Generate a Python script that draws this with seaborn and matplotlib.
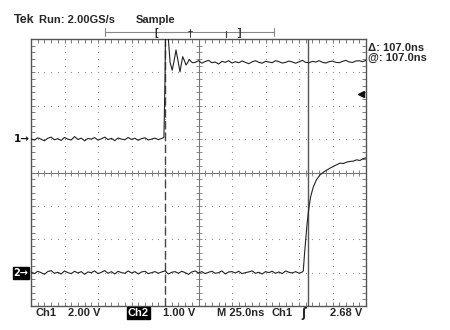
import numpy as np
import pandas as pd
import seaborn as sns
import matplotlib
matplotlib.use("Agg")
import matplotlib.pyplot as plt
import matplotlib.transforms as mtransforms

# scope settings
ns_per_div = 25.0
ch1_volts_per_div = 2.0
ch2_volts_per_div = 1.0
ch1_offset_div = 1.0
ch2_offset_div = -3.0
trig_level = 2.68
cursor_a = 100.0
cursor_b = 207.0

# Ch1 trace (volts)
ch1_base_v = [0.02, -0.06, 0.08, 0.0, -0.1, 0.05, 0.12, -0.04, 0.03, -0.08,
              0.1, 0.0, -0.05, 0.15, -0.02, 0.06, -0.1, 0.04, 0.0, 0.09,
              -0.06, 0.02, 0.12, -0.03, 0.05, -0.09, 0.07, 0.0, -0.04, 0.1,
              -0.02, 0.05, -0.07, 0.03, 0.08, -0.05, 0.0, 0.06, -0.03, 0.04]
ch1_edge_t = [99.2, 100.0, 100.6, 101.8, 102.5, 103.8, 105.4, 106.8, 108.2, 109.7,
              111.2, 112.2, 113.2, 114.5, 115.7, 117.0, 118.1, 119.3, 120.5]
ch1_edge_v = [0.1, 3.5, 8.0, 8.0, 6.0, 4.6, 4.13, 4.7, 5.34, 4.7,
              4.03, 4.5, 4.94, 4.7, 4.44, 4.6, 4.78, 4.66, 4.58]
ch1_top_v = [4.6, 4.7, 4.55, 4.65, 4.72, 4.58, 4.62, 4.5, 4.66, 4.6,
             4.7, 4.56, 4.64, 4.58, 4.68, 4.6, 4.52, 4.63, 4.7, 4.6,
             4.55, 4.66, 4.62, 4.58, 4.7, 4.64, 4.56, 4.6, 4.68, 4.62,
             4.55, 4.63, 4.72, 4.6, 4.58, 4.66, 4.62, 4.7, 4.6, 4.56,
             4.64, 4.68, 4.6, 4.58, 4.66, 4.72, 4.62, 4.6, 4.68, 4.7,
             4.64, 4.72]

# Ch2 trace (volts)
ch2_base_v = [0.02, -0.03, 0.04, 0.0, -0.05, 0.03, 0.06, -0.02, 0.01, -0.04,
              0.05, 0.0, -0.03, 0.04, -0.01, 0.03, -0.05, 0.02, 0.0, 0.05,
              -0.03, 0.01, 0.06, -0.02, 0.03, -0.04, 0.04, 0.0, -0.02, 0.05,
              -0.01, 0.03, -0.04, 0.02, 0.04, -0.03, 0.0, 0.03, -0.02, 0.02,
              0.05, -0.04, 0.01, 0.03, -0.02, 0.04, 0.0, -0.05, 0.02, 0.05,
              -0.01, 0.03, -0.03, 0.01, 0.04, -0.02, 0.0, 0.05, -0.04, 0.02,
              0.03, -0.01, 0.04, -0.03, 0.0, 0.02, 0.05, -0.02, 0.01, -0.04,
              0.03, 0.0, 0.04, -0.02, 0.02, -0.03, 0.05, 0.01, -0.01, 0.03,
              -0.02, 0.02]
ch2_edge_t = [203.2, 204.0, 205.2, 206.0, 206.9, 207.8, 208.7, 210.7, 213.0, 215.7,
              219.0, 223.1, 226.5, 230.6, 233.0, 235.5, 238.0, 240.5, 243.0, 245.5,
              247.5, 249.3, 250.0]
ch2_edge_v = [0.05, 0.5, 1.08, 1.45, 1.78, 2.05, 2.28, 2.57, 2.78, 2.93,
              3.03, 3.13, 3.2, 3.28, 3.27, 3.31, 3.33, 3.34, 3.38, 3.36,
              3.41, 3.43, 3.44]

# sample clock 2.5 ns
ch1_t = np.concatenate([np.arange(len(ch1_base_v)) * 2.5, ch1_edge_t,
                        122.5 + np.arange(len(ch1_top_v)) * 2.5])
ch1_v = np.concatenate([ch1_base_v, ch1_edge_v, ch1_top_v])
ch2_t = np.concatenate([np.arange(len(ch2_base_v)) * 2.5, ch2_edge_t])
ch2_v = np.concatenate([ch2_base_v, ch2_edge_v])

df1 = pd.DataFrame({"t": ch1_t, "div": ch1_offset_div + ch1_v / ch1_volts_per_div})
df2 = pd.DataFrame({"t": ch2_t, "div": ch2_offset_div + ch2_v / ch2_volts_per_div})

sns.set_theme(style="white")
plt.rcParams["font.family"] = ["Liberation Sans", "DejaVu Sans"]

W, H = 450, 330
fig = plt.figure(figsize=(4.5, 3.3), dpi=100)
ax = fig.add_axes([31 / W, 1 - 306 / H, 335 / W, 267 / H])

def fx(x):
    return x / W

def fy(y):
    return 1 - y / H

tmax = 10 * ns_per_div
ax.set_xlim(0, tmax)
ax.set_ylim(-4, 4)

# dotted graticule
grid_col = "#8f8f8f"
for k in range(1, 10):
    if k == 5:
        continue
    yy = np.arange(-4, 4.01, 0.2)
    ax.scatter(np.full(len(yy), k * ns_per_div), yy, s=0.8, color=grid_col, linewidths=0, zorder=1)
for j in range(-3, 4):
    if j == 0:
        continue
    xx = np.arange(0, tmax + 0.1, ns_per_div / 5)
    ax.scatter(xx, np.full(len(xx), j), s=0.8, color=grid_col, linewidths=0, zorder=1)

# centre cross with ticks
ax.axhline(0, color="#777", lw=0.8, zorder=1)
ax.axvline(tmax / 2, color="#777", lw=0.8, zorder=1)
xm = np.arange(0, tmax + 0.1, ns_per_div / 5)
ym = np.arange(-4, 4.01, 0.2)
ax.plot(xm, np.zeros(len(xm)), ls="none", marker="|", ms=5, mew=0.6, color="#777", zorder=1)
ax.plot(np.full(len(ym), tmax / 2), ym, ls="none", marker="_", ms=5, mew=0.6, color="#777", zorder=1)

# border ticks
ax.set_xticks(np.arange(0, tmax + 0.1, ns_per_div))
ax.set_xticks(xm, minor=True)
ax.set_yticks(np.arange(-4, 5, 1))
ax.set_yticks(ym, minor=True)
ax.tick_params(which="both", direction="in", top=True, right=True, bottom=True, left=True,
               length=3, width=0.6, color="#666",
               labelbottom=False, labelleft=False)
for s in ax.spines.values():
    s.set_color("#555")
    s.set_linewidth(1.0)

# cursors
ax.axvline(cursor_a, color="#444", lw=1.0, ls=(0, (6, 2.5)), zorder=2)
ax.axvline(cursor_b, color="#555", lw=1.0, zorder=2)

# traces
sns.lineplot(data=df1, x="t", y="div", ax=ax, color="#222", lw=0.8, estimator=None, sort=False, zorder=3)
sns.lineplot(data=df2, x="t", y="div", ax=ax, color="#222", lw=0.8, estimator=None, sort=False, zorder=3)
ax.set_xlabel("")
ax.set_ylabel("")

# channel ground markers and trigger level
btr = mtransforms.blended_transform_factory(ax.transAxes, ax.transData)
ax.text(-0.004, ch1_offset_div, "1\u2192", transform=btr, ha="right", va="center",
        fontsize=7.5, fontweight="bold", color="#111", family=["DejaVu Sans"])
ax.text(-0.008, ch2_offset_div, "2\u2192", transform=btr, ha="right", va="center",
        fontsize=7, fontweight="bold", color="white", family=["DejaVu Sans"],
        bbox=dict(facecolor="black", edgecolor="black", pad=0.6))
ax.plot([0.985], [ch1_offset_div + trig_level / ch1_volts_per_div], transform=btr,
        marker="<", ms=4, color="#111", clip_on=False)

# header
fs = 8.0
fig.text(fx(14), fy(20), "Tek", fontsize=9, fontweight="bold", va="center")
fig.text(fx(39), fy(20), "Run: 2.00GS/s", fontsize=fs, fontweight="bold", va="center")
fig.text(fx(136), fy(20), "Sample", fontsize=fs, fontweight="bold", va="center")

bar_y = fy(32)
fig.add_artist(plt.Line2D([fx(105), fx(274)], [bar_y, bar_y], color="#888", lw=0.8))
for bx in [105, 274]:
    fig.add_artist(plt.Line2D([fx(bx), fx(bx)], [fy(28), fy(36)], color="#888", lw=0.8))
fig.add_artist(plt.Line2D([fx(226), fx(226)], [fy(31), fy(37)], color="#444", lw=0.9))
fig.text(fx(156), fy(33), "[", fontsize=7.5, fontweight="bold", ha="center", va="center")
fig.text(fx(240), fy(33), "]", fontsize=7.5, fontweight="bold", ha="center", va="center")
fig.text(fx(190), fy(33), "\u2020", fontsize=7.5, ha="center", va="center", family=["DejaVu Sans"])

# cursor readout
fig.text(fx(368), fy(48), "\u0394: 107.0ns", fontsize=fs, fontweight="bold", va="center")
fig.text(fx(368), fy(58), "@: 107.0ns", fontsize=fs, fontweight="bold", va="center")

# footer
fy_b = fy(313)
fig.text(fx(35), fy_b, "Ch1", fontsize=fs, fontweight="bold", va="center")
fig.text(fx(68), fy_b, "2.00 V", fontsize=fs, fontweight="bold", va="center")
fig.text(fx(128), fy_b, "Ch2", fontsize=fs, fontweight="bold", va="center", color="white",
         bbox=dict(facecolor="black", edgecolor="black", pad=0.6))
fig.text(fx(163), fy_b, "1.00 V", fontsize=fs, fontweight="bold", va="center")
fig.text(fx(217), fy_b, "M 25.0ns", fontsize=fs, fontweight="bold", va="center")
fig.text(fx(271), fy_b, "Ch1", fontsize=fs, fontweight="bold", va="center")
fig.text(fx(301), fy_b, "\u0283", fontsize=8.5, fontweight="bold", va="center", family=["DejaVu Sans"])
fig.text(fx(330), fy_b, "2.68 V", fontsize=fs, fontweight="bold", va="center")

fig.savefig("out.png", dpi=100, facecolor="white")
